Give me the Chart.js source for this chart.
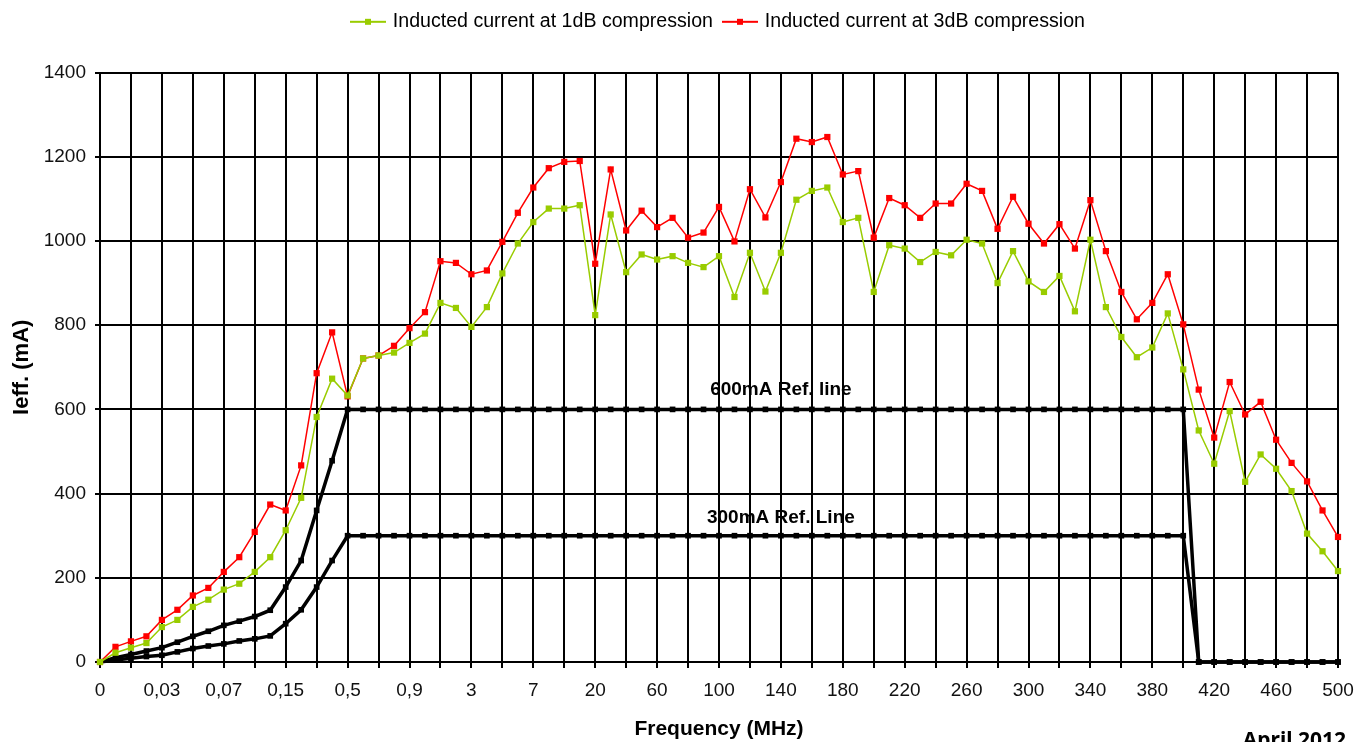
<!DOCTYPE html>
<html>
<head>
<meta charset="utf-8">
<script src="https://cdn.jsdelivr.net/npm/chart.js@4.4.1/dist/chart.umd.min.js"></script>
<style>
    html, body { margin: 0; padding: 0; background: #fff; }
    #wrap { width: 1369px; height: 742px; position: relative; }
</style>
</head>
<body>
<div id="wrap"><canvas id="ieff-chart"></canvas></div>
<script>
// Frequency categories (MHz), decimal comma as in the original sheet
const frequencies = [
    '0', '0,005', '0,01', '0,02', '0,03', '0,04', '0,05', '0,06', '0,07', '0,08',
    '0,09', '0,1', '0,15', '0,2', '0,3', '0,4', '0,5', '0,6', '0,7', '0,8',
    '0,9', '1', '1,5', '2', '3', '4', '5', '6', '7', '8',
    '9', '10', '20', '30', '40', '50', '60', '70', '80', '90',
    '100', '110', '120', '130', '140', '150', '160', '170', '180', '190',
    '200', '210', '220', '230', '240', '250', '260', '270', '280', '290',
    '300', '310', '320', '330', '340', '350', '360', '370', '380', '390',
    '400', '410', '420', '430', '440', '450', '460', '470', '480', '490',
    '500'
];

const current1dB = [
    0, 22, 34, 45, 83, 100, 131, 148, 172, 186,
    214, 249, 313, 390, 582, 673, 633, 721, 728, 735,
    758, 780, 853, 841, 796, 843, 923, 994, 1045, 1077,
    1077, 1085, 824, 1063, 926, 968, 956, 964, 948, 938,
    964, 867, 972, 880, 972, 1098, 1119, 1127, 1045, 1055,
    879, 990, 982, 950, 974, 966, 1003, 994, 900, 976,
    904, 879, 917, 833, 1003, 843, 772, 724, 747, 828,
    695, 550, 471, 596, 428, 493, 459, 406, 305, 263,
    216
];

const current3dB = [
    0, 36, 49, 61, 100, 124, 158, 176, 214, 249,
    309, 374, 360, 467, 686, 783, 631, 721, 728, 751,
    793, 831, 952, 948, 921, 930, 998, 1067, 1127, 1173,
    1188, 1190, 946, 1170, 1025, 1072, 1033, 1055, 1008, 1020,
    1081, 999, 1123, 1056, 1140, 1243, 1235, 1247, 1158, 1166,
    1008, 1102, 1085, 1055, 1089, 1089, 1136, 1119, 1029, 1105,
    1041, 994, 1040, 982, 1097, 976, 879, 814, 853, 921,
    802, 647, 533, 665, 588, 618, 528, 473, 429, 360,
    297
];

const ref600 = [
    0, 10, 18, 26, 34, 47, 61, 73, 87, 97,
    108, 123, 178, 241, 360, 478, 600, 600, 600, 600,
    600, 600, 600, 600, 600, 600, 600, 600, 600, 600,
    600, 600, 600, 600, 600, 600, 600, 600, 600, 600,
    600, 600, 600, 600, 600, 600, 600, 600, 600, 600,
    600, 600, 600, 600, 600, 600, 600, 600, 600, 600,
    600, 600, 600, 600, 600, 600, 600, 600, 600, 600,
    600, 0, 0, 0, 0, 0, 0, 0, 0, 0,
    0
];

const ref300 = [
    0, 5, 9, 13, 16, 24, 32, 38, 43, 50,
    55, 62, 91, 124, 178, 241, 300, 300, 300, 300,
    300, 300, 300, 300, 300, 300, 300, 300, 300, 300,
    300, 300, 300, 300, 300, 300, 300, 300, 300, 300,
    300, 300, 300, 300, 300, 300, 300, 300, 300, 300,
    300, 300, 300, 300, 300, 300, 300, 300, 300, 300,
    300, 300, 300, 300, 300, 300, 300, 300, 300, 300,
    300, 0, 0, 0, 0, 0, 0, 0, 0, 0,
    0
];

const refNotes = [
    { text: '600mA Ref. line', at: 44, value: 600, lift: 14 },
    { text: '300mA Ref. Line', at: 44, value: 300, lift: 13 }
];

const FONT = '"Liberation Sans", Arial, sans-serif';

// legend icon: short line with a square marker in the middle
function legendIcon(color) {
    const c = document.createElement('canvas');
    c.width = 40;
    c.height = 10;
    const g = c.getContext('2d');
    g.strokeStyle = color;
    g.lineWidth = 2;
    g.beginPath();
    g.moveTo(2, 5);
    g.lineTo(38, 5);
    g.stroke();
    g.fillStyle = color;
    g.fillRect(17, 2, 6, 6);
    return c;
}

const refLabels = {
    id: 'refLabels',
    afterDatasetsDraw(chart) {
        const { ctx, scales: { x, y } } = chart;
        ctx.save();
        ctx.fillStyle = '#000';
        ctx.font = 'bold 19px ' + FONT;
        ctx.textAlign = 'center';
        ctx.textBaseline = 'alphabetic';
        refNotes.forEach(n => {
            ctx.fillText(n.text, x.getPixelForValue(n.at), y.getPixelForValue(n.value) - n.lift);
        });
        ctx.font = 'bold 21px "Noto Sans", "Open Sans", sans-serif';
        ctx.textAlign = 'right';
        ctx.fillText('April 2012', 1346, 747);
        ctx.restore();
    }
};

const everyOther = c => (c.index % 2 === 0 ? '#000' : 'rgba(0,0,0,0)');

const ctx = document.getElementById('ieff-chart').getContext('2d');
new Chart(ctx, {
    type: 'line',
    data: {
        labels: frequencies,
        datasets: [
            {
                label: 'Inducted current at 1dB compression',
                data: current1dB,
                borderColor: '#99CC00',
                backgroundColor: '#99CC00',
                borderWidth: 1.5,
                pointStyle: 'rect',
                pointRadius: 4.4,
                pointBorderWidth: 0,
                clip: false
            },
            {
                label: 'Inducted current at 3dB compression',
                data: current3dB,
                borderColor: '#FF0000',
                backgroundColor: '#FF0000',
                borderWidth: 1.5,
                pointStyle: 'rect',
                pointRadius: 4.4,
                pointBorderWidth: 0,
                clip: false
            },
            {
                label: '600mA Ref. line',
                data: ref600,
                borderColor: '#000',
                backgroundColor: '#000',
                borderWidth: 3.5,
                pointStyle: 'rect',
                pointRadius: 4,
                pointBorderWidth: 0,
                clip: false
            },
            {
                label: '300mA Ref. Line',
                data: ref300,
                borderColor: '#000',
                backgroundColor: '#000',
                borderWidth: 3.5,
                pointStyle: 'rect',
                pointRadius: 4,
                pointBorderWidth: 0,
                clip: false
            }
        ]
    },
    options: {
        responsive: true,
        maintainAspectRatio: false,
        animation: false,
        events: [],
        layout: { padding: { top: 0, right: 31, bottom: 0, left: 0 } },
        elements: { line: { tension: 0 } },
        scales: {
            x: {
                grid: { color: everyOther, tickColor: everyOther, lineWidth: 2, tickLength: 6 },
                border: { color: '#000', width: 2 },
                ticks: {
                    autoSkip: false,
                    maxRotation: 0,
                    minRotation: 0,
                    padding: 11,
                    color: '#111',
                    font: { family: FONT, size: 19 },
                    callback: function (value, index) {
                        return index % 4 === 0 ? this.getLabelForValue(value) : '';
                    }
                },
                title: {
                    display: true,
                    text: 'Frequency (MHz)',
                    color: '#000',
                    font: { family: FONT, size: 21, weight: 'bold' },
                    padding: { top: 0, bottom: 0 }
                },
                afterFit: scale => { scale.height = 80; }
            },
            y: {
                min: 0,
                max: 1400,
                grid: { color: '#000', lineWidth: 2, tickLength: 5 },
                border: { color: '#000', width: 2 },
                ticks: {
                    stepSize: 200,
                    padding: 9,
                    color: '#111',
                    font: { family: FONT, size: 19 },
                    callback: value => String(value)
                },
                title: {
                    display: true,
                    text: 'Ieff. (mA)',
                    color: '#000',
                    font: { family: FONT, size: 22, weight: 'bold' },
                    padding: { top: 9, bottom: 0 }
                },
                afterFit: scale => { scale.width = 100; }
            }
        },
        plugins: {
            legend: {
                position: 'top',
                fullSize: false,
                weight: 3000,
                labels: {
                    usePointStyle: true,
                    pointStyleWidth: 30,
                    padding: 12,
                    color: '#000',
                    font: { family: FONT, size: 19.6 },
                    generateLabels: chart => chart.data.datasets.slice(0, 2).map((ds, i) => ({
                        text: ds.label,
                        pointStyle: legendIcon(ds.borderColor),
                        fillStyle: ds.borderColor,
                        strokeStyle: ds.borderColor,
                        lineWidth: 0,
                        hidden: false,
                        fontColor: '#000',
                        datasetIndex: i
                    }))
                }
            },
            // empty title used as a spacer between legend and plot
            title: {
                display: true,
                text: '',
                font: { size: 10 },
                padding: { top: 0, bottom: 19 }
            },
            tooltip: { enabled: false }
        }
    },
    plugins: [refLabels]
});
</script>
</body>
</html>
